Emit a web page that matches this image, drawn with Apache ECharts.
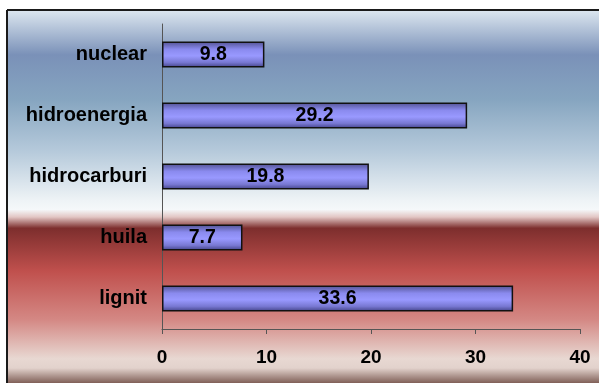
<!DOCTYPE html>
<html>
<head>
<meta charset="utf-8">
<script src="https://cdn.jsdelivr.net/npm/echarts@6/dist/echarts.min.js"></script>
<style>
html,body{margin:0;padding:0;background:#ffffff;}
#chart{width:599px;height:383px;}
</style>
</head>
<body>
<div id="chart"></div>
<script>
const categories = ['nuclear', 'hidroenergia', 'hidrocarburi', 'huila', 'lignit'];
const values = [9.8, 29.2, 19.8, 7.7, 33.6];
const axisMin = 0, axisMax = 40, axisStep = 10;

const chart = echarts.init(document.getElementById('chart'), null, {renderer: 'canvas'});

const bgGradient = new echarts.graphic.LinearGradient(0, 0, 0, 1, [
  {offset: 0.00, color: '#dde7f0'},
  {offset: 0.12, color: '#7a91b8'},
  {offset: 0.24, color: '#86a5c0'},
  {offset: 0.38, color: '#b6cadb'},
  {offset: 0.51, color: '#eef3f6'},
  {offset: 0.535, color: '#f5f8fa'},
  {offset: 0.555, color: '#e2c6c4'},
  {offset: 0.585, color: '#7d2e2d'},
  {offset: 0.70, color: '#c0504d'},
  {offset: 0.83, color: '#d48884'},
  {offset: 0.935, color: '#e8d8d2'},
  {offset: 0.96, color: '#e2d2cc'},
  {offset: 1.00, color: '#806058'}
]);

const barGradient = new echarts.graphic.LinearGradient(0, 0, 0, 1, [
  {offset: 0.00, color: '#50508f'},
  {offset: 0.30, color: '#8a8aee'},
  {offset: 0.55, color: '#9999ff'},
  {offset: 0.80, color: '#7878d2'},
  {offset: 1.00, color: '#404085'}
]);

const font = {fontFamily: 'Liberation Sans, Arial, sans-serif', fontWeight: 'bold', color: '#000000'};

chart.setOption({
  animation: false,
  graphic: [
    {type: 'rect', z: -10, silent: true, shape: {x: 7, y: 10, width: 592, height: 373}, style: {fill: bgGradient}},
    {type: 'line', z: -9, silent: true, shape: {x1: 7, y1: 10, x2: 599, y2: 10}, style: {stroke: '#1a1a1a', lineWidth: 2}},
    {type: 'line', z: -9, silent: true, shape: {x1: 7, y1: 10, x2: 7, y2: 383}, style: {stroke: '#1a1a1a', lineWidth: 2}}
  ],
  grid: {left: 162, right: 19, top: 24, bottom: 54, containLabel: false},
  xAxis: {
    type: 'value',
    min: axisMin, max: axisMax, interval: axisStep,
    splitLine: {show: false},
    axisLine: {show: true, lineStyle: {color: '#555555', width: 1}},
    axisTick: {show: true, length: 5, lineStyle: {color: '#555555'}},
    axisLabel: Object.assign({margin: 19, fontSize: 19}, font)
  },
  yAxis: {
    type: 'category',
    data: categories,
    inverse: true,
    axisLine: {show: true, lineStyle: {color: '#555555', width: 1}},
    axisTick: {show: false},
    axisLabel: Object.assign({margin: 15, fontSize: 20}, font)
  },
  series: [{
    type: 'bar',
    data: values,
    barWidth: '43%',
    itemStyle: {color: barGradient, borderColor: '#111111', borderWidth: 1.5},
    label: Object.assign({
      show: true, position: 'inside', fontSize: 19.5,
      formatter: p => p.value.toFixed(1)
    }, font)
  }]
});
</script>
</body>
</html>
